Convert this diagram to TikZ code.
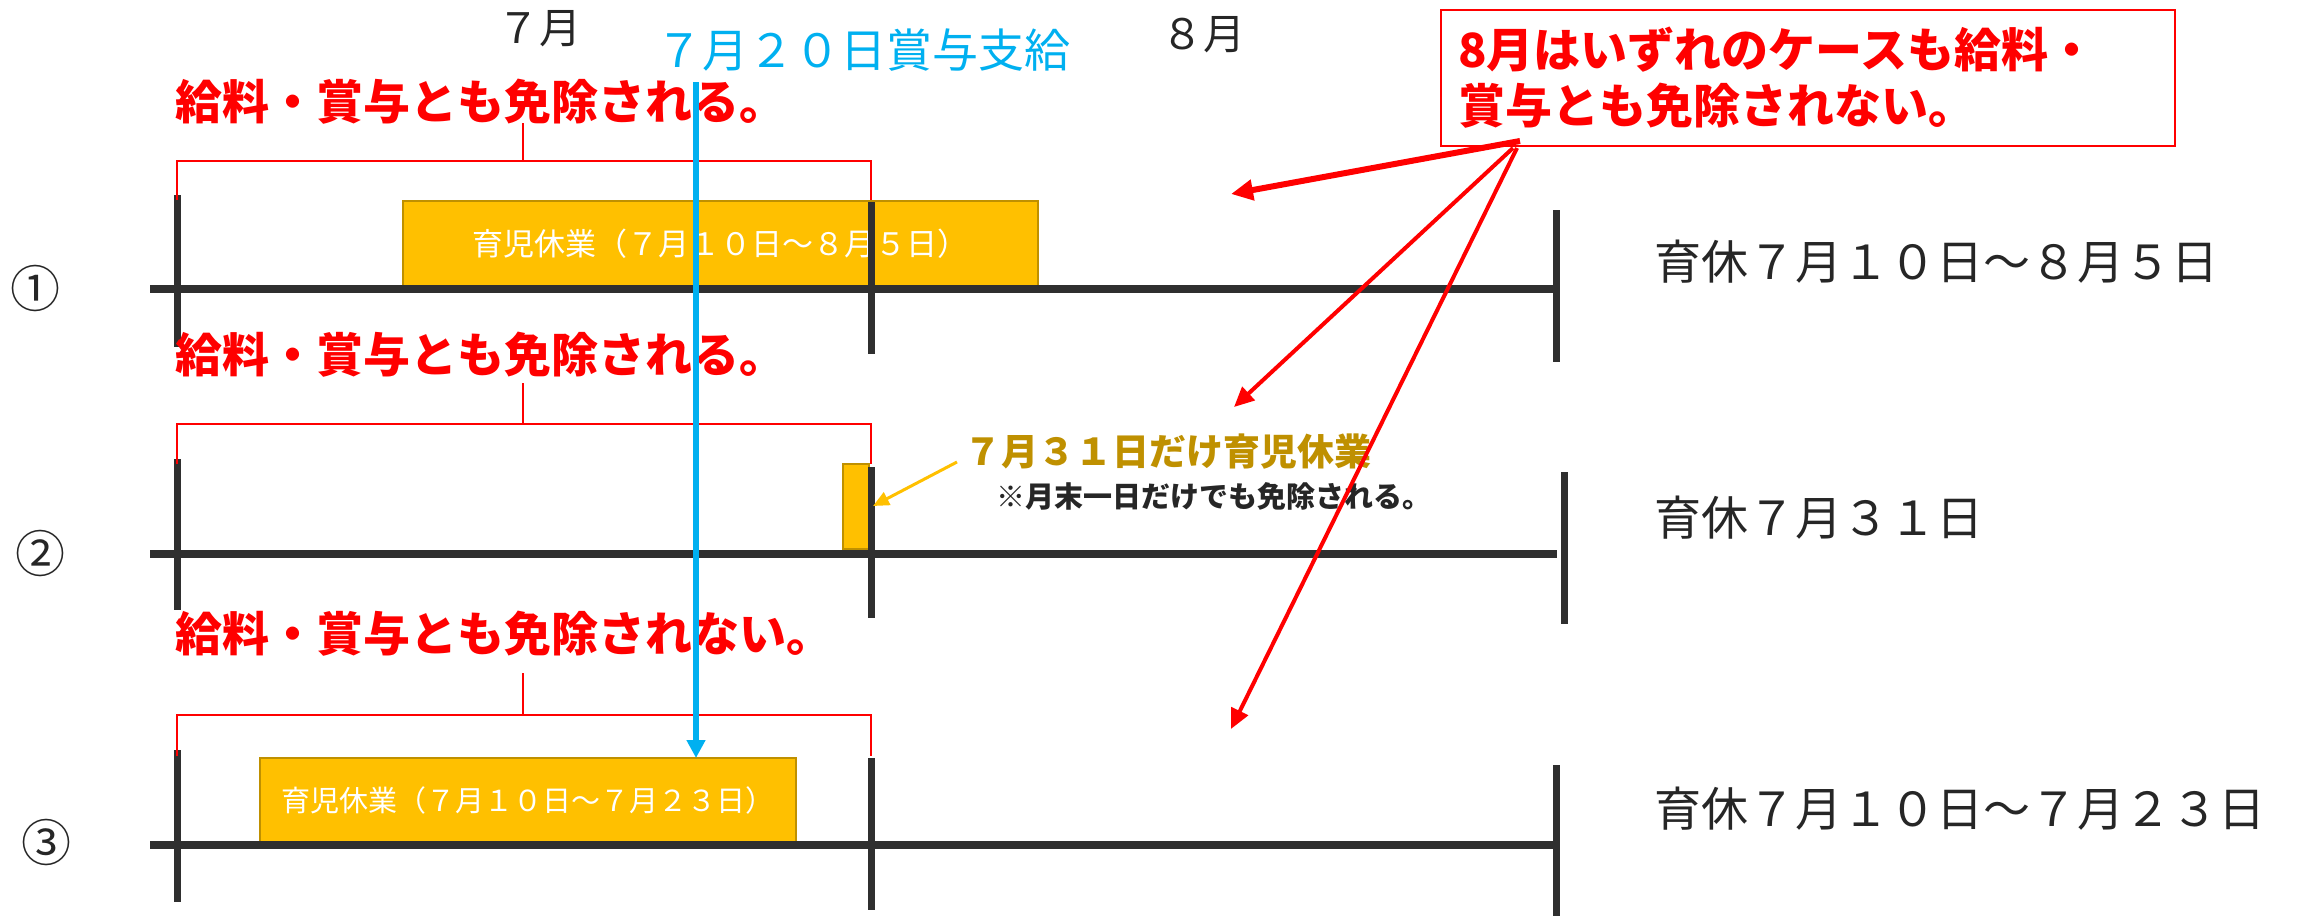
\documentclass[tikz,border=0pt]{standalone}
\usepackage{fontspec}
\usetikzlibrary{arrows.meta}
\newfontfamily\jp{Noto Sans CJK JP}
\definecolor{axisgray}{HTML}{2F2F2F}
\definecolor{txtgray}{HTML}{262626}
\definecolor{leaveyellow}{HTML}{FFC000}
\definecolor{leaveborder}{HTML}{BF9000}
\definecolor{gold}{HTML}{BF9000}
\definecolor{bonusblue}{HTML}{00B0F0}
\definecolor{alertred}{HTML}{FF0000}
\newcommand{\fsz}[1]{\fontsize{#1}{#1}\selectfont}
\begin{document}
\begin{tikzpicture}[x=1pt,y=-1pt,
  every node/.style={inner sep=0pt, outer sep=0pt},
  axisline/.style={draw=axisgray, line width=8pt},
  tickline/.style={draw=axisgray, line width=7pt},
  bracketline/.style={draw=alertred, line width=2.5pt},
  leavebox/.style={fill=leaveyellow, draw=leaveborder, line width=2.5pt, text=white, font=\jp\fsz{31}},
  redlabel/.style={anchor=west, text=alertred, font=\jp\bfseries\fsz{47}},
  rightlabel/.style={anchor=west, text=txtgray, font=\jp\fsz{47}},
  monthlabel/.style={text=txtgray, font=\jp\fsz{42}},
  circnum/.style={text=txtgray, font=\jp\fsz{50}},
  notearrow/.style={draw=alertred, line width=4pt, -{Triangle[length=20pt, width=18pt]}},
  thickarrow/.style={draw=alertred, line width=6pt, -{Triangle[length=22pt, width=20pt]}},
]
\useasboundingbox (0,0) rectangle (2300,916);

% month labels
\node[monthlabel] (m7) at (539,29) {７月};
\node[monthlabel] (m8) at (1203,35) {８月};
\node[anchor=west, text=bonusblue, font=\jp\fsz{46}] (bonus) at (656,50) {７月２０日賞与支給};

% note box
\node[draw=alertred, line width=2.5pt, minimum width=734pt, minimum height=136pt,
      text width=700pt, align=left, text=alertred, font=\jp\bfseries\fontsize{47}{56}\selectfont]
      (note) at (1808,78) {8月はいずれのケースも給料・\\賞与とも免除されない。};

% circled numbers
\node[circnum] (c1) at (35,288) {①};
\node[circnum] (c2) at (41,553) {②};
\node[circnum] (c3) at (46,842) {③};

% ---------- row 1 ----------
\node[leavebox, minimum width=635pt, minimum height=85pt] (box1) at (720.5,243.5) {育児休業（７月１０日～８月５日）};
\draw[axisline] (150,289) -- (1556,289);
\draw[tickline] (177,195) -- (177,347);
\draw[tickline] (871,202) -- (871,354);
\draw[tickline] (1556,210) -- (1556,362);
\draw[bracketline] (177,200) -- (177,161) -- (871,161) -- (871,200);
\draw[bracketline] (523,161) -- (523,123);
\node[redlabel] (lab1) at (175,102) {給料・賞与とも免除される。};
\node[rightlabel] (r1) at (1654,262) {育休７月１０日～８月５日};

% ---------- row 2 ----------
\node[leavebox, minimum width=26pt, minimum height=85pt] (box2) at (856,506.5) {};
\draw[axisline] (150,554) -- (1557,554);
\draw[tickline] (177,459) -- (177,610);
\draw[tickline] (871,467) -- (871,618);
\draw[tickline] (1564,472) -- (1564,624);
\draw[bracketline] (177,464) -- (177,424) -- (871,424) -- (871,464);
\draw[bracketline] (523,424) -- (523,383);
\node[redlabel] (lab2) at (175,355) {給料・賞与とも免除される。};
\node[anchor=west, text=gold, font=\jp\bfseries\fsz{37}] (only31) at (964,452) {７月３１日だけ育児休業};
\node[anchor=west, text=txtgray, font=\jp\bfseries\fsz{29}] (endmonth) at (996,496) {※月末一日だけでも免除される。};
\coordinate (yarrowtip) at (873,506);
\draw[draw=leaveyellow, line width=3pt, -{Triangle[length=16pt, width=14pt]}] (only31.west) ++(-7,10) -- (yarrowtip);
\node[rightlabel] (r2) at (1654,518) {育休７月３１日};

% ---------- row 3 ----------
\node[leavebox, font=\jp\fsz{29}, minimum width=536pt, minimum height=85pt] (box3) at (528,800.5) {育児休業（７月１０日～７月２３日）};
\draw[axisline] (150,845) -- (1556,845);
\draw[tickline] (177,750) -- (177,902);
\draw[tickline] (871,758) -- (871,910);
\draw[tickline] (1556,765) -- (1556,916);
\draw[bracketline] (177,756) -- (177,715) -- (871,715) -- (871,756);
\draw[bracketline] (523,715) -- (523,673);
\node[redlabel] (lab3) at (175,634) {給料・賞与とも免除されない。};
\node[rightlabel] (r3) at (1654,809) {育休７月１０日～７月２３日};

% bonus line
\coordinate (bonustop) at (696,82);
\draw[draw=bonusblue, line width=6pt, -{Triangle[length=18pt, width=18pt]}] (bonustop) -- (bonustop |- box3.north);

% arrows from note box
\coordinate (src1) at (1520,141);
\coordinate (src2) at (1513,148);
\coordinate (src3) at (1517,148);
\coordinate (t1) at (1231,194);
\coordinate (t2) at (1234,407);
\coordinate (t3) at (1231,729);
\draw[thickarrow] (src1) -- (t1);
\draw[notearrow] (src2) -- (t2);
\draw[notearrow] (src3) -- (t3);
\end{tikzpicture}
\end{document}
